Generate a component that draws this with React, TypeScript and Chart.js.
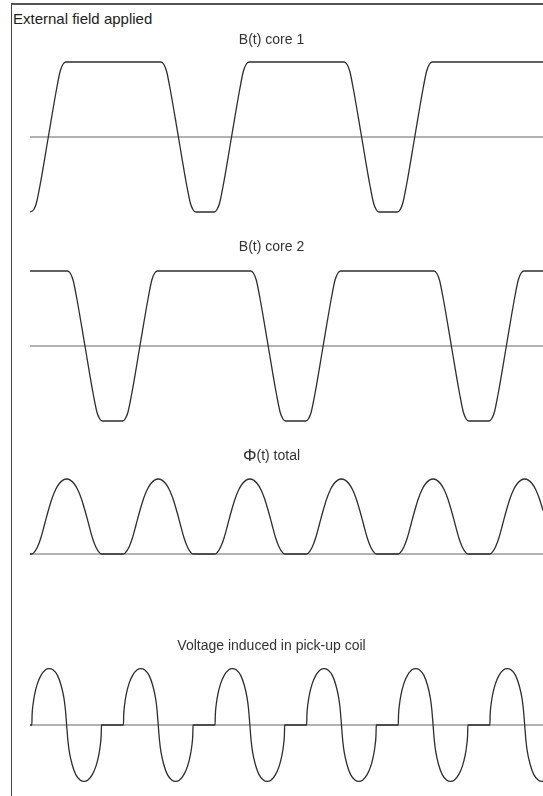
import React, { useEffect, useRef } from "react";
import { Chart, registerables } from "chart.js";

Chart.register(...registerables);
Chart.defaults.font.family = '"Liberation Sans", Arial, Helvetica, sans-serif';

// Time axis in arbitrary units: one excitation period = 100 units.
const T_MIN = 0;
const T_MAX = 280;

const FRAME_CAPTION = "External field applied";
const TITLE_CORE1 = "B(t) core 1";
const TITLE_CORE2 = "B(t) core 2";
const TITLE_FLUX = "Φ(t) total";
const TITLE_VOLTAGE = "Voltage induced in pick-up coil";

// B(t) in core 1 (normalised, saturates at ±1)
const core1Time = [
  0, 2, 3.5, 5.5, 10, 14.5, 16.5, 18, 19.5,
  71.5, 73, 74.5, 76.5, 81, 85.5, 87.5, 89, 90.5,
  100.5, 102, 103.5, 105.5, 110, 114.5, 116.5, 118, 119.5,
  171.5, 173, 174.5, 176.5, 181, 185.5, 187.5, 189, 190.5,
  200.5, 202, 203.5, 205.5, 210, 214.5, 216.5, 218, 219.5,
  281,
];
const core1Field = [
  -1, -0.97, -0.88, -0.64, 0, 0.64, 0.88, 0.97, 1,
  1, 0.97, 0.88, 0.64, 0, -0.64, -0.88, -0.97, -1,
  -1, -0.97, -0.88, -0.64, 0, 0.64, 0.88, 0.97, 1,
  1, 0.97, 0.88, 0.64, 0, -0.64, -0.88, -0.97, -1,
  -1, -0.97, -0.88, -0.64, 0, 0.64, 0.88, 0.97, 1,
  1,
];

// B(t) in core 2
const core2Time = [
  0, 20.5, 22, 23.5, 25.5, 30, 34.5, 36.5, 38, 39.5,
  50.5, 52, 53.5, 55.5, 60, 64.5, 66.5, 68, 69.5,
  120.5, 122, 123.5, 125.5, 130, 134.5, 136.5, 138, 139.5,
  150.5, 152, 153.5, 155.5, 160, 164.5, 166.5, 168, 169.5,
  220.5, 222, 223.5, 225.5, 230, 234.5, 236.5, 238, 239.5,
  250.5, 252, 253.5, 255.5, 260, 264.5, 266.5, 268, 269.5,
  281,
];
const core2Field = [
  1, 1, 0.97, 0.88, 0.64, 0, -0.64, -0.88, -0.97, -1,
  -1, -0.97, -0.88, -0.64, 0, 0.64, 0.88, 0.97, 1,
  1, 0.97, 0.88, 0.64, 0, -0.64, -0.88, -0.97, -1,
  -1, -0.97, -0.88, -0.64, 0, 0.64, 0.88, 0.97, 1,
  1, 0.97, 0.88, 0.64, 0, -0.64, -0.88, -0.97, -1,
  -1, -0.97, -0.88, -0.64, 0, 0.64, 0.88, 0.97, 1,
  1,
];

// Total flux Φ(t)
const fluxTime = [
  0,
  1, 2, 4, 6, 8, 10, 12, 14, 16, 18, 20, 22, 24, 26, 28, 30, 32, 34, 36, 38, 39,
  51, 52, 54, 56, 58, 60, 62, 64, 66, 68, 70, 72, 74, 76, 78, 80, 82, 84, 86, 88, 89,
  101, 102, 104, 106, 108, 110, 112, 114, 116, 118, 120, 122, 124, 126, 128, 130, 132, 134, 136, 138, 139,
  151, 152, 154, 156, 158, 160, 162, 164, 166, 168, 170, 172, 174, 176, 178, 180, 182, 184, 186, 188, 189,
  201, 202, 204, 206, 208, 210, 212, 214, 216, 218, 220, 222, 224, 226, 228, 230, 232, 234, 236, 238, 239,
  251, 252, 254, 256, 258, 260, 262, 264, 266, 268, 270, 272, 274, 276, 278, 280, 282,
];
const fluxValue = [
  0,
  0, 0.015, 0.09, 0.22, 0.4, 0.58, 0.74, 0.86, 0.94, 0.985, 1, 0.985, 0.94, 0.86, 0.74, 0.58, 0.4, 0.22, 0.09, 0.015, 0,
  0, 0.015, 0.09, 0.22, 0.4, 0.58, 0.74, 0.86, 0.94, 0.985, 1, 0.985, 0.94, 0.86, 0.74, 0.58, 0.4, 0.22, 0.09, 0.015, 0,
  0, 0.015, 0.09, 0.22, 0.4, 0.58, 0.74, 0.86, 0.94, 0.985, 1, 0.985, 0.94, 0.86, 0.74, 0.58, 0.4, 0.22, 0.09, 0.015, 0,
  0, 0.015, 0.09, 0.22, 0.4, 0.58, 0.74, 0.86, 0.94, 0.985, 1, 0.985, 0.94, 0.86, 0.74, 0.58, 0.4, 0.22, 0.09, 0.015, 0,
  0, 0.015, 0.09, 0.22, 0.4, 0.58, 0.74, 0.86, 0.94, 0.985, 1, 0.985, 0.94, 0.86, 0.74, 0.58, 0.4, 0.22, 0.09, 0.015, 0,
  0, 0.015, 0.09, 0.22, 0.4, 0.58, 0.74, 0.86, 0.94, 0.985, 1, 0.985, 0.94, 0.86, 0.74, 0.58, 0.4,
];

// Voltage induced in the pick-up coil
const voltageTime = [
  0,
  1, 1.15, 1.6, 2.5, 4, 6, 8.5, 10.5, 12.5, 15, 17, 18.5, 19.3, 20, 20.7, 21.5, 23, 25, 27.5, 29.5, 31.5, 34, 36, 37.5, 38.4, 38.85, 39,
  51, 51.15, 51.6, 52.5, 54, 56, 58.5, 60.5, 62.5, 65, 67, 68.5, 69.3, 70, 70.7, 71.5, 73, 75, 77.5, 79.5, 81.5, 84, 86, 87.5, 88.4, 88.85, 89,
  101, 101.15, 101.6, 102.5, 104, 106, 108.5, 110.5, 112.5, 115, 117, 118.5, 119.3, 120, 120.7, 121.5, 123, 125, 127.5, 129.5, 131.5, 134, 136, 137.5, 138.4, 138.85, 139,
  151, 151.15, 151.6, 152.5, 154, 156, 158.5, 160.5, 162.5, 165, 167, 168.5, 169.3, 170, 170.7, 171.5, 173, 175, 177.5, 179.5, 181.5, 184, 186, 187.5, 188.4, 188.85, 189,
  201, 201.15, 201.6, 202.5, 204, 206, 208.5, 210.5, 212.5, 215, 217, 218.5, 219.3, 220, 220.7, 221.5, 223, 225, 227.5, 229.5, 231.5, 234, 236, 237.5, 238.4, 238.85, 239,
  251, 251.15, 251.6, 252.5, 254, 256, 258.5, 260.5, 262.5, 265, 267, 268.5, 269.3, 270, 270.7, 271.5, 273, 275, 277.5, 279.5, 281.5,
];
const voltageValue = [
  0,
  0, 0.18, 0.35, 0.54, 0.73, 0.88, 0.98, 1, 0.98, 0.88, 0.7, 0.48, 0.28, 0, -0.28, -0.48, -0.7, -0.88, -0.98, -1, -0.98, -0.88, -0.73, -0.54, -0.35, -0.18, 0,
  0, 0.18, 0.35, 0.54, 0.73, 0.88, 0.98, 1, 0.98, 0.88, 0.7, 0.48, 0.28, 0, -0.28, -0.48, -0.7, -0.88, -0.98, -1, -0.98, -0.88, -0.73, -0.54, -0.35, -0.18, 0,
  0, 0.18, 0.35, 0.54, 0.73, 0.88, 0.98, 1, 0.98, 0.88, 0.7, 0.48, 0.28, 0, -0.28, -0.48, -0.7, -0.88, -0.98, -1, -0.98, -0.88, -0.73, -0.54, -0.35, -0.18, 0,
  0, 0.18, 0.35, 0.54, 0.73, 0.88, 0.98, 1, 0.98, 0.88, 0.7, 0.48, 0.28, 0, -0.28, -0.48, -0.7, -0.88, -0.98, -1, -0.98, -0.88, -0.73, -0.54, -0.35, -0.18, 0,
  0, 0.18, 0.35, 0.54, 0.73, 0.88, 0.98, 1, 0.98, 0.88, 0.7, 0.48, 0.28, 0, -0.28, -0.48, -0.7, -0.88, -0.98, -1, -0.98, -0.88, -0.73, -0.54, -0.35, -0.18, 0,
  0, 0.18, 0.35, 0.54, 0.73, 0.88, 0.98, 1, 0.98, 0.88, 0.7, 0.48, 0.28, 0, -0.28, -0.48, -0.7, -0.88, -0.98, -1, -0.98,
];

const TITLE_COLOR = "#333333";
const FONT_FAMILY = '"Liberation Sans", Arial, Helvetica, sans-serif';

// Draws the title with a larger first glyph (used for the Φ symbol).
const bigLeadTitle = {
  id: "bigLeadTitle",
  afterDraw(chart: any, _args: any, opts: any) {
    if (!opts || !opts.enabled) return;
    const tb = chart.titleBlock;
    if (!tb) return;
    const text: string = chart.options.plugins.title.text;
    const lead = Array.from(text)[0];
    const rest = text.slice(lead.length);
    const ctx = chart.ctx;
    const cy = tb.top + opts.padTop + 8;
    ctx.save();
    ctx.fillStyle = TITLE_COLOR;
    ctx.textBaseline = "middle";
    ctx.textAlign = "left";
    ctx.font = `${opts.leadSize}px ${FONT_FAMILY}`;
    const w1 = ctx.measureText(lead).width;
    ctx.font = `14px ${FONT_FAMILY}`;
    const w2 = ctx.measureText(rest).width;
    const x0 = (tb.left + tb.right) / 2 - (w1 + w2) / 2;
    ctx.font = `${opts.leadSize}px ${FONT_FAMILY}`;
    ctx.fillText(lead, x0, cy + 0.5);
    ctx.font = `14px ${FONT_FAMILY}`;
    ctx.fillText(rest, x0 + w1, cy);
    ctx.restore();
  },
};

type PanelProps = {
  title: string;
  times: number[];
  values: number[];
  yMin: number;
  yMax: number;
  top: number;
  height: number;
  padTop: number;
  padBottom: number;
  bigLead?: boolean;
};

function WavePanel(p: PanelProps) {
  const ref = useRef<HTMLCanvasElement | null>(null);
  useEffect(() => {
    if (!ref.current) return;
    const chart = new Chart(ref.current, {
      type: "line",
      data: {
        datasets: [
          {
            data: p.times.map((t, i) => ({ x: t, y: p.values[i] })),
            borderColor: "#2e2e2e",
            borderWidth: 1.3,
            pointRadius: 0,
            cubicInterpolationMode: "monotone",
            fill: false,
          },
          {
            data: [
              { x: T_MIN, y: 0 },
              { x: T_MAX, y: 0 },
            ],
            borderColor: "#666666",
            borderWidth: 1.2,
            pointRadius: 0,
            fill: false,
          },
        ],
      },
      options: {
        responsive: false,
        animation: false,
        events: [],
        layout: { padding: 0 },
        plugins: {
          legend: { display: false },
          tooltip: { enabled: false },
          title: {
            display: true,
            text: p.title,
            color: p.bigLead ? "rgba(0,0,0,0)" : TITLE_COLOR,
            font: { size: 14, weight: "normal", lineHeight: "16px" },
            padding: { top: p.padTop, bottom: p.padBottom },
          },
          bigLeadTitle: { enabled: !!p.bigLead, padTop: p.padTop, leadSize: 17 },
        },
        scales: {
          x: { type: "linear", min: T_MIN, max: T_MAX, display: false },
          y: {
            min: p.yMin,
            max: p.yMax,
            display: true,
            ticks: { display: false },
            grid: { display: false },
            border: { display: false },
            afterFit: (s: any) => {
              s.width = 30;
            },
          },
        },
      },
      plugins: [bigLeadTitle],
    } as any);
    return () => chart.destroy();
  }, []);
  return (
    <canvas
      ref={ref}
      width={543}
      height={p.height}
      style={{ position: "absolute", left: 0, top: p.top, width: 543, height: p.height }}
    />
  );
}

export default function App() {
  return (
    <div
      style={{
        position: "absolute",
        left: 0,
        top: 0,
        width: 543,
        height: 796,
        overflow: "hidden",
        background: "#ffffff",
      }}
    >
      <div
        style={{
          position: "absolute",
          left: 11,
          top: 3,
          width: 560,
          height: 820,
          borderTop: "2px solid #555555",
          borderLeft: "1px solid #444444",
        }}
      />
      <div
        style={{
          position: "absolute",
          left: 13,
          top: 10,
          fontFamily: FONT_FAMILY,
          fontSize: 15,
          lineHeight: "18px",
          color: "#222222",
          whiteSpace: "nowrap",
        }}
      >
        {FRAME_CAPTION}
      </div>
      <WavePanel title={TITLE_CORE1} times={core1Time} values={core1Field} yMin={-1.08} yMax={1.08} top={28} height={190} padTop={4} padBottom={8} />
      <WavePanel title={TITLE_CORE2} times={core2Time} values={core2Field} yMin={-1.08} yMax={1.08} top={237} height={190} padTop={2} padBottom={10} />
      <WavePanel title={TITLE_FLUX} times={fluxTime} values={fluxValue} yMin={-0.08} yMax={1.08} top={446} height={114} padTop={2} padBottom={9} bigLead />
      <WavePanel title={TITLE_VOLTAGE} times={voltageTime} values={voltageValue} yMin={-1.1} yMax={1.1} top={636} height={151} padTop={2} padBottom={9} />
    </div>
  );
}
